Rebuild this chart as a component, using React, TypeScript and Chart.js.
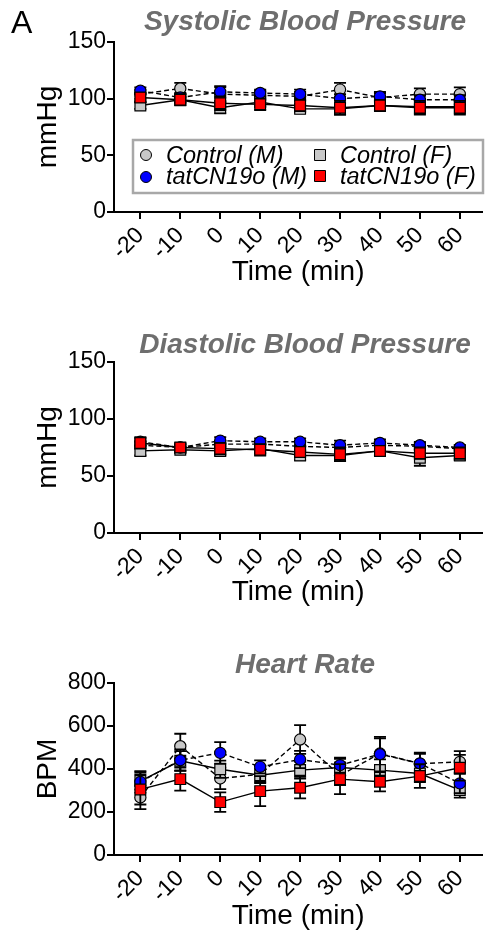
import React, { useEffect, useRef } from "react";
import { Chart, registerables } from "chart.js";

Chart.register(...registerables);

const FONT = "'Liberation Sans', Arial, Helvetica, sans-serif";

// time points (min)
const times = [-20, -10, 0, 10, 20, 30, 40, 50, 60];
const xTickValues = [-20, -10, 0, 10, 20, 30, 40, 50, 60];

const seriesNames = ["Control (M)", "Control (F)", "tatCN19o (M)", "tatCN19o (F)"];

// Systolic blood pressure (mmHg): mean and SEM
const sysCtrlM = [104, 109, 104, 103, 102, 108, 101, 104, 104];
const sysCtrlMErr = [4, 5, 6, 4, 4, 6, 4, 5, 6];
const sysTatM = [107, 101, 106, 105, 104, 100, 102, 99, 99];
const sysTatMErr = [3, 4, 5, 3, 4, 4, 4, 4, 4];
const sysCtrlF = [94, 99, 92, 97, 91, 91, 94, 93, 93];
const sysCtrlFErr = [3, 3, 5, 4, 3, 5, 4, 6, 6];
const sysTatF = [101, 99, 96, 95, 94, 92, 94, 92, 92];
const sysTatFErr = [4, 5, 6, 5, 5, 6, 5, 6, 6];

// Diastolic blood pressure (mmHg)
const diaCtrlM = [77, 75, 78, 78, 76, 75, 77, 76, 74];
const diaCtrlMErr = [3, 3, 3, 3, 3, 3, 3, 3, 3];
const diaTatM = [80, 75, 81, 80, 80, 77, 79, 77, 75];
const diaTatMErr = [3, 3, 3, 3, 3, 4, 3, 3, 2];
const diaCtrlF = [72, 73, 72, 74, 68, 68, 72, 66, 68];
const diaCtrlFErr = [4, 3, 4, 4, 4, 5, 4, 7, 4];
const diaTatF = [79, 75, 74, 73, 71, 69, 72, 70, 70];
const diaTatFErr = [5, 4, 5, 5, 4, 6, 4, 5, 5];

// Heart rate (BPM)
const hrCtrlM = [268, 506, 356, 375, 537, 370, 472, 425, 433];
const hrCtrlMErr = [55, 58, 50, 40, 67, 45, 70, 45, 50];
const hrTatM = [340, 441, 475, 410, 444, 418, 469, 426, 333];
const hrTatMErr = [50, 50, 50, 30, 40, 35, 80, 50, 45];
const hrCtrlF = [344, 438, 399, 371, 395, 407, 395, 379, 302];
const hrCtrlFErr = [40, 45, 40, 30, 40, 40, 50, 40, 35];
const hrTatF = [305, 353, 246, 297, 313, 353, 341, 367, 406];
const hrTatFErr = [70, 54, 45, 70, 50, 70, 45, 55, 60];

const sysTicks = [0, 50, 100, 150];
const hrTicks = [0, 200, 400, 600, 800];

const GRAY = "#c8c8c8";
const BLUE = "#0000ff";
const RED = "#ff0000";

type Group = { vals: number[]; errs: number[] };

const errorBarPlugin = {
  id: "errorBars",
  beforeDatasetDraw(chart: any, args: any) {
    const ds = chart.data.datasets[args.index];
    const errs: number[] = ds.errors;
    if (!errs) return;
    const ctx = chart.ctx;
    const yScale = chart.scales.y;
    ctx.save();
    ctx.strokeStyle = "#000";
    ctx.lineWidth = 1.8;
    args.meta.data.forEach((pt: any, i: number) => {
      const v = ds.data[i].y;
      const e = errs[i];
      const x = pt.x;
      const yt = yScale.getPixelForValue(v + e);
      const yb = yScale.getPixelForValue(v - e);
      ctx.beginPath();
      ctx.moveTo(x, yt);
      ctx.lineTo(x, yb);
      ctx.moveTo(x - 6, yt);
      ctx.lineTo(x + 6, yt);
      ctx.moveTo(x - 6, yb);
      ctx.lineTo(x + 6, yb);
      ctx.stroke();
    });
    ctx.restore();
  },
};

const decorPlugin = {
  id: "decor",
  afterDraw(chart: any, _args: any, opts: any) {
    const ctx = chart.ctx;
    ctx.save();
    if (opts.letter) {
      ctx.font = `32px ${FONT}`;
      ctx.fillStyle = "#000";
      ctx.textAlign = "left";
      ctx.textBaseline = "alphabetic";
      ctx.fillText(opts.letter, 11, 33);
    }
    ctx.font = `italic bold 28px ${FONT}`;
    ctx.fillStyle = "#6e6e6e";
    ctx.textAlign = "center";
    ctx.textBaseline = "alphabetic";
    ctx.fillText(opts.title, 305, opts.titleY);

    if (opts.legend) {
      const bx = 133, by = 140, bw = 350, bh = 53;
      ctx.fillStyle = "#fff";
      ctx.fillRect(bx, by, bw, bh);
      ctx.strokeStyle = "#a8a8a8";
      ctx.lineWidth = 2.5;
      ctx.strokeRect(bx, by, bw, bh);
      const items = [
        { name: seriesNames[0], shape: "circle", color: GRAY, mx: 146, my: 155, tx: 166, ty: 163 },
        { name: seriesNames[1], shape: "rect", color: GRAY, mx: 320, my: 155, tx: 340, ty: 163 },
        { name: seriesNames[2], shape: "circle", color: BLUE, mx: 146, my: 177, tx: 166, ty: 184 },
        { name: seriesNames[3], shape: "rect", color: RED, mx: 320, my: 176, tx: 340, ty: 184 },
      ];
      ctx.font = `italic 23.5px ${FONT}`;
      ctx.textAlign = "left";
      items.forEach((it) => {
        ctx.fillStyle = it.color;
        ctx.strokeStyle = "#000";
        ctx.lineWidth = 1;
        ctx.beginPath();
        if (it.shape === "circle") {
          ctx.arc(it.mx, it.my, 5.5, 0, Math.PI * 2);
        } else {
          ctx.rect(it.mx - 5.5, it.my - 5.5, 11, 11);
        }
        ctx.fill();
        ctx.stroke();
        ctx.fillStyle = "#000";
        ctx.fillText(it.name, it.tx, it.ty);
      });
    }
    ctx.restore();
  },
};

function makeDataset(label: string, g: Group, color: string, shape: string, dashed: boolean) {
  return {
    label,
    data: times.map((t, i) => ({ x: t, y: g.vals[i] })),
    errors: g.errs,
    borderColor: "#000",
    borderWidth: 1.4,
    borderDash: dashed ? [5, 3] : [],
    backgroundColor: color,
    pointBackgroundColor: color,
    pointBorderColor: "#000",
    pointBorderWidth: 1.2,
    pointStyle: shape,
    pointRadius: shape === "rect" ? 7.6 : 5.6,
    fill: false,
    tension: 0,
  };
}

type PanelProps = {
  height: number;
  title: string;
  titleY: number;
  letter?: string;
  legend?: boolean;
  yTicks: number[];
  yLabel: string;
  chartTop: number;
  chartBottom: number;
  xTitleBottomPad: number;
  ctrlM: Group;
  tatM: Group;
  ctrlF: Group;
  tatF: Group;
};

function Panel(p: PanelProps) {
  const ref = useRef<HTMLCanvasElement | null>(null);
  useEffect(() => {
    if (!ref.current) return;
    const yMax = p.yTicks[p.yTicks.length - 1];
    const chart = new Chart(ref.current, {
      type: "line",
      data: {
        datasets: [
          makeDataset(seriesNames[3], p.tatF, RED, "rect", false),
          makeDataset(seriesNames[2], p.tatM, BLUE, "circle", true),
          makeDataset(seriesNames[1], p.ctrlF, GRAY, "rect", false),
          makeDataset(seriesNames[0], p.ctrlM, GRAY, "circle", true),
        ] as any,
      },
      options: {
        animation: false,
        responsive: false,
        devicePixelRatio: 1,
        layout: { padding: { top: p.chartTop, right: 1, left: 0, bottom: 0 } },
        plugins: {
          legend: { display: false },
          tooltip: { enabled: false },
          title: { display: false },
          decor: { title: p.title, titleY: p.titleY, letter: p.letter, legend: p.legend },
        } as any,
        scales: {
          x: {
            type: "linear",
            min: -26.6,
            max: 65.6,
            afterBuildTicks: (s: any) => {
              s.ticks = xTickValues.map((v) => ({ value: v }));
            },
            afterFit: (s: any) => {
              s.height = p.height - p.chartBottom;
            },
            ticks: {
              minRotation: 45,
              maxRotation: 45,
              autoSkip: false,
              padding: 3,
              color: "#000",
              font: { family: FONT, size: 23 },
              callback: (v: any) => String(v),
            },
            grid: { display: true, drawOnChartArea: false, drawTicks: true, tickLength: 7, color: "#000", lineWidth: 2 },
            border: { display: true, color: "#000", width: 2 },
            title: {
              display: true,
              text: "Time (min)",
              color: "#000",
              font: { family: FONT, size: 28 },
              padding: { top: 0, bottom: p.xTitleBottomPad },
            },
          },
          y: {
            type: "linear",
            min: 0,
            max: yMax,
            afterBuildTicks: (s: any) => {
              s.ticks = p.yTicks.map((v) => ({ value: v }));
            },
            afterFit: (s: any) => {
              s.width = 114;
            },
            ticks: {
              padding: 1,
              color: "#000",
              font: { family: FONT, size: 23 },
              callback: (v: any) => String(v),
            },
            grid: { display: true, drawOnChartArea: false, drawTicks: true, tickLength: 7, color: "#000", lineWidth: 2 },
            border: { display: true, color: "#000", width: 2 },
            title: {
              display: true,
              text: p.yLabel,
              color: "#000",
              font: { family: FONT, size: 28 },
              padding: { top: 31, bottom: 0 },
            },
          },
        },
      } as any,
      plugins: [errorBarPlugin, decorPlugin],
    });
    return () => chart.destroy();
  }, []);
  return (
    <div style={{ position: "relative", width: 491, height: p.height }}>
      <canvas ref={ref} width={491} height={p.height} style={{ display: "block" }} />
    </div>
  );
}

export default function App() {
  return (
    <div style={{ position: "absolute", left: 0, top: 0, width: 491, height: 933, background: "#fff" }}>
      <Panel
        height={320}
        title="Systolic Blood Pressure"
        titleY={30}
        letter="A"
        legend
        yTicks={sysTicks}
        yLabel="mmHg"
        chartTop={42}
        chartBottom={212}
        xTitleBottomPad={31}
        ctrlM={{ vals: sysCtrlM, errs: sysCtrlMErr }}
        tatM={{ vals: sysTatM, errs: sysTatMErr }}
        ctrlF={{ vals: sysCtrlF, errs: sysCtrlFErr }}
        tatF={{ vals: sysTatF, errs: sysTatFErr }}
      />
      <Panel
        height={320}
        title="Diastolic Blood Pressure"
        titleY={33}
        yTicks={sysTicks}
        yLabel="mmHg"
        chartTop={42}
        chartBottom={213}
        xTitleBottomPad={31}
        ctrlM={{ vals: diaCtrlM, errs: diaCtrlMErr }}
        tatM={{ vals: diaTatM, errs: diaTatMErr }}
        ctrlF={{ vals: diaCtrlF, errs: diaCtrlFErr }}
        tatF={{ vals: diaTatF, errs: diaTatFErr }}
      />
      <Panel
        height={293}
        title="Heart Rate"
        titleY={33}
        yTicks={hrTicks}
        yLabel="BPM"
        chartTop={43}
        chartBottom={215}
        xTitleBottomPad={0}
        ctrlM={{ vals: hrCtrlM, errs: hrCtrlMErr }}
        tatM={{ vals: hrTatM, errs: hrTatMErr }}
        ctrlF={{ vals: hrCtrlF, errs: hrCtrlFErr }}
        tatF={{ vals: hrTatF, errs: hrTatFErr }}
      />
    </div>
  );
}
